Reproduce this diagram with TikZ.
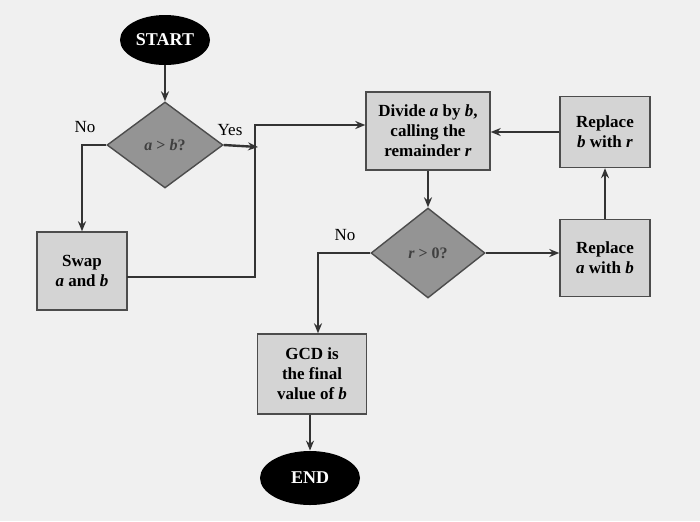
\documentclass[tikz,border=0pt]{standalone}
\usepackage{fontspec}
\setmainfont{Liberation Serif}
\usetikzlibrary{shapes.geometric,arrows.meta}
\newcommand{\vv}[1]{\textit{#1}}
\begin{document}
\begin{tikzpicture}[x=0.5pt,y=-0.5pt,
  box/.style={draw=black!70,fill=black!17,line width=0.7pt,align=center,font=\bfseries\fontsize{8.5}{10}\selectfont,inner sep=0pt},
  dia/.style={diamond,draw=black!70,fill=black!42,line width=0.7pt,inner sep=0pt,font=\bfseries\fontsize{8}{10}\selectfont,text=black!75},
  term/.style={ellipse,fill=black,text=white,font=\bfseries\fontsize{9}{11}\selectfont,inner sep=0pt},
  arr/.style={-{Stealth[length=5pt,width=4pt]},line width=1.2pt,black!80},
  lab/.style={font=\fontsize{8.5}{10}\selectfont}]
\fill[black!6] (0,0) rectangle (700,521);
\node[term,minimum width=90*0.5pt,minimum height=50*0.5pt] (start) at (165,40) {START};
\node[dia,minimum width=116*0.5pt,minimum height=86*0.5pt] (d1) at (165,145) {\vv{a} > \vv{b}?};
\node[box,minimum width=90*0.5pt,minimum height=78*0.5pt] (swap) at (82,271) {Swap\\\vv{a} and \vv{b}};
\node[box,minimum width=124*0.5pt,minimum height=78*0.5pt] (div) at (428,131) {Divide \vv{a} by \vv{b},\\calling the\\remainder \vv{r}};
\node[box,minimum width=90*0.5pt,minimum height=71*0.5pt] (rb) at (605,132) {Replace\\\vv{b} with \vv{r}};
\node[box,minimum width=90*0.5pt,minimum height=77*0.5pt] (ra) at (605,258) {Replace\\\vv{a} with \vv{b}};
\node[dia,minimum width=114*0.5pt,minimum height=90*0.5pt] (d2) at (428,253) {\vv{r} > 0?};
\node[box,minimum width=109*0.5pt,minimum height=80*0.5pt] (gcd) at (312,374) {GCD is\\the final\\value of \vv{b}};
\node[term,minimum width=100*0.5pt,minimum height=54*0.5pt] (end) at (310,478) {END};
\node[lab] (no1) at (85,127) {No};
\node[lab] (yes1) at (230,130) {Yes};
\node[lab] (no2) at (345,235) {No};
\coordinate (c1) at (258,147);
\coordinate (s1) at (127,277);
\draw[arr] (start) -- (d1);
\draw[arr] (d1.west) -| (swap.north);
\draw[arr] (d1.east) -- (c1);
\draw[arr] (s1) -- (255,277) -- (255,125) -- (div.west |- 0,125);
\draw[arr] (div.south) -- (d2.north);
\draw[arr] (d2.east) -- (ra.west |- d2.east);
\draw[arr] (ra.north) -- (rb.south);
\draw[arr] (rb.west) -- (div.east |- rb.west);
\draw[arr] (d2.west) -| (gcd.north -| 318,0);
\draw[arr] (gcd.south -| 310,0) -- (end.north);
\end{tikzpicture}
\end{document}
